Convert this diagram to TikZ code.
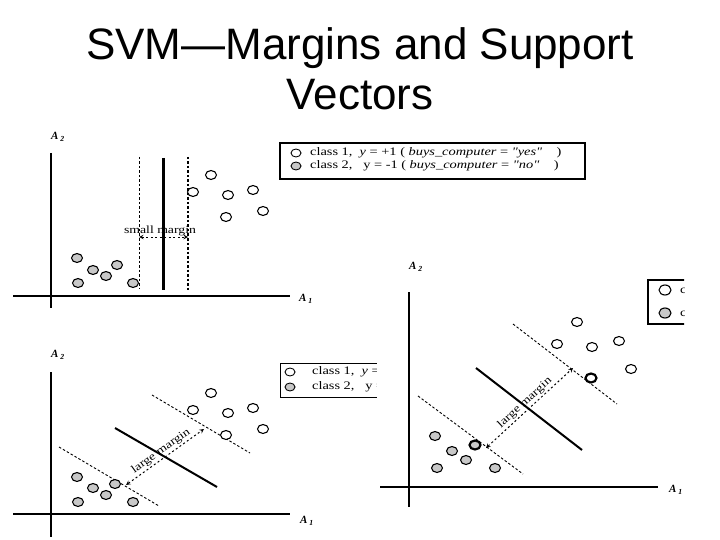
\documentclass[tikz,border=0pt]{standalone}
\usepackage{fontspec}
\setmainfont{Liberation Serif}
\newfontfamily\titlefont{Liberation Sans}
\newfontfamily\legendfont[FakeStretch=1.25]{Liberation Serif}
\usepackage{tikz}
\usetikzlibrary{shapes.geometric, arrows, positioning, calc}
\definecolor{ptgray}{RGB}{200,200,200}
\tikzstyle{ptopen} = [ellipse, minimum width=11pt, minimum height=9pt, inner sep=0pt, draw=black, line width=1.1pt, fill=white]
\tikzstyle{ptfill} = [ptopen, fill=ptgray]
\tikzstyle{svpt} = [line width=2.2pt]
\tikzstyle{axisline} = [line width=2pt]
\tikzstyle{hyper} = [line width=2pt]
\tikzstyle{margin} = [dashed, dash pattern=on 2.5pt off 2pt, line width=0.9pt]
\tikzstyle{marrow} = [dashed, dash pattern=on 2pt off 2.5pt, line width=1pt, <->, >=stealth]
\tikzstyle{legendbox} = [draw=black, line width=1.5pt]
\tikzstyle{lgtext} = [anchor=west, inner sep=0pt, font=\legendfont\fontsize{11.5}{12}\selectfont]
\tikzstyle{axlabel} = [inner sep=0pt, font=\fontsize{11}{12}\selectfont\bfseries\itshape]
\newcommand{\dq}{\symbol{34}}

\begin{document}
\begin{tikzpicture}[x=1pt, y=-1pt]
    \useasboundingbox (0,0) rectangle (720,540);
    \fill[white] (0,0) rectangle (720,540);

    % Title
    \node (title1) [anchor=base, inner sep=0pt, font=\titlefont\fontsize{44}{50}\selectfont] at (360,60) {SVM—Margins and Support};
    \node (title2) [anchor=base, inner sep=0pt, font=\titlefont\fontsize{44}{50}\selectfont] at (360,110) {Vectors};

    % Panel 1: small margin
    \draw [axisline] (51,153) -- (51,308);
    \draw [axisline] (13,296) -- (290,296);
    \node (a2one) [axlabel] at (58,137) {A\,\textsubscript{2}};
    \node (a1one) [axlabel] at (306,299) {A\,\textsubscript{1}};
    \draw [margin] (139,157) -- (139,288);
    \draw [line width=3pt] (163,158) -- (163,290);
    \draw [margin, line width=1.3pt] (188,157) -- (188,290);
    \coordinate (m1a) at (139,237);
    \coordinate (m1b) at (188,237);
    \node (small) [inner sep=0pt, font=\legendfont\fontsize{11}{12}\selectfont] at (160,231) {small margin};
    \draw [marrow] (m1a) -- (m1b);
    \node (p1a) [ptopen] at (211,175) {};
    \node (p1b) [ptopen] at (193,192) {};
    \node (p1c) [ptopen] at (228,195) {};
    \node (p1d) [ptopen] at (253,190) {};
    \node (p1e) [ptopen] at (226,217) {};
    \node (p1f) [ptopen] at (263,211) {};
    \node (n1a) [ptfill] at (77,258) {};
    \node (n1b) [ptfill] at (93,270) {};
    \node (n1c) [ptfill] at (117,265) {};
    \node (n1d) [ptfill] at (106,276) {};
    \node (n1e) [ptfill] at (78,283) {};
    \node (n1f) [ptfill] at (133,283) {};

    % Legend 1
    \draw [legendbox] (280,143) rectangle (585,179);
    \node (l1p) [ptopen, minimum width=10pt, minimum height=8pt, line width=0.9pt] at (296,153) {};
    \node (l1n) [ptfill, minimum width=10pt, minimum height=8pt, line width=0.9pt] at (296,166) {};
    \node (l1pt) [lgtext] at (310,153) {class 1,\ \ \textit{y} = +1 ( \textit{buys\_computer} = \textit{\dq yes\dq}\ \ \ \ )};
    \node (l1nt) [lgtext] at (310,166) {class 2,\ \ \ y = -1 ( \textit{buys\_computer} = \textit{\dq no\dq}\ \ \ \ )};

    % Panel 2: large margin
    \draw [axisline] (51,372) -- (51,537);
    \draw [axisline] (13,514) -- (290,514);
    \node (a2two) [axlabel] at (58,355) {A\,\textsubscript{2}};
    \node (a1two) [axlabel] at (307,521) {A\,\textsubscript{1}};
    \draw [margin] (152,395) -- (250,453);
    \draw [margin] (59,447) -- (159,506);
    \draw [hyper] (115,428) -- (217,487);
    \coordinate (m2a) at (126,485);
    \coordinate (m2b) at (204,429);
    \draw [marrow] (m2a) -- node[sloped, above=1.5pt, inner sep=0pt, font=\legendfont\fontsize{11}{12}\selectfont] {large margin} (m2b);
    \node (p2a) [ptopen] at (211,393) {};
    \node (p2b) [ptopen] at (193,410) {};
    \node (p2c) [ptopen] at (228,413) {};
    \node (p2d) [ptopen] at (253,408) {};
    \node (p2e) [ptopen] at (226,435) {};
    \node (p2f) [ptopen] at (263,429) {};
    \node (n2a) [ptfill] at (77,477) {};
    \node (n2b) [ptfill] at (93,488) {};
    \node (n2c) [ptfill] at (115,484) {};
    \node (n2d) [ptfill] at (106,495) {};
    \node (n2e) [ptfill] at (78,502) {};
    \node (n2f) [ptfill] at (133,502) {};

    % Legend 2
    \draw [legendbox, line width=1pt] (280,363) rectangle (400,397);
    \node (l2p) [ptopen, minimum width=10pt, minimum height=8pt, line width=0.9pt] at (290,372) {};
    \node (l2n) [ptfill, minimum width=10pt, minimum height=8pt, line width=0.9pt] at (290,387) {};
    \node (l2pt) [lgtext] at (312,372) {class 1,\ \ \textit{y} = +1};
    \node (l2nt) [lgtext] at (312,387) {class 2,\ \ \ y = -1};

    % Panel 3 covers the rest
    \fill [white] (377,245) rectangle (720,540);
    \begin{scope}
    \clip (377,245) rectangle (684,540);
    \draw [axisline] (409,292) -- (409,507);
    \draw [axisline] (380,487) -- (658,487);
    \node (a2three) [axlabel] at (416,267) {A\,\textsubscript{2}};
    \node (a1three) [axlabel] at (676,490) {A\,\textsubscript{1}};
    \draw [margin] (513,324) -- (617,404);
    \draw [margin] (418,396) -- (523,474);
    \draw [hyper] (476,368) -- (582,450);
    \coordinate (m3a) at (486,448);
    \coordinate (m3b) at (573,368);
    \draw [marrow] (m3a) -- node[sloped, above=1.5pt, inner sep=0pt, font=\legendfont\fontsize{11}{12}\selectfont] {large margin} (m3b);
    \node (p3a) [ptopen] at (577,322) {};
    \node (p3b) [ptopen] at (557,344) {};
    \node (p3c) [ptopen] at (592,347) {};
    \node (p3d) [ptopen] at (619,341) {};
    \node (p3e) [ptopen] at (631,369) {};
    \node (p3sv) [ptopen, svpt] at (591,378) {};
    \node (n3a) [ptfill] at (435,436) {};
    \node (n3b) [ptfill] at (452,451) {};
    \node (n3c) [ptfill] at (466,460) {};
    \node (n3d) [ptfill] at (437,468) {};
    \node (n3e) [ptfill] at (495,468) {};
    \node (n3sv) [ptfill, svpt] at (475,445) {};

    % Legend 3
    \draw [legendbox, line width=2pt] (648,280) rectangle (740,324);
    \node (l3p) [ptopen, minimum width=12pt, minimum height=10pt] at (665,290) {};
    \node (l3n) [ptfill, minimum width=12pt, minimum height=10pt] at (665,313) {};
    \node (l3pt) [lgtext] at (680,290) {class 1,};
    \node (l3nt) [lgtext] at (680,313) {class 2,};
    \end{scope}
\end{tikzpicture}
\end{document}
